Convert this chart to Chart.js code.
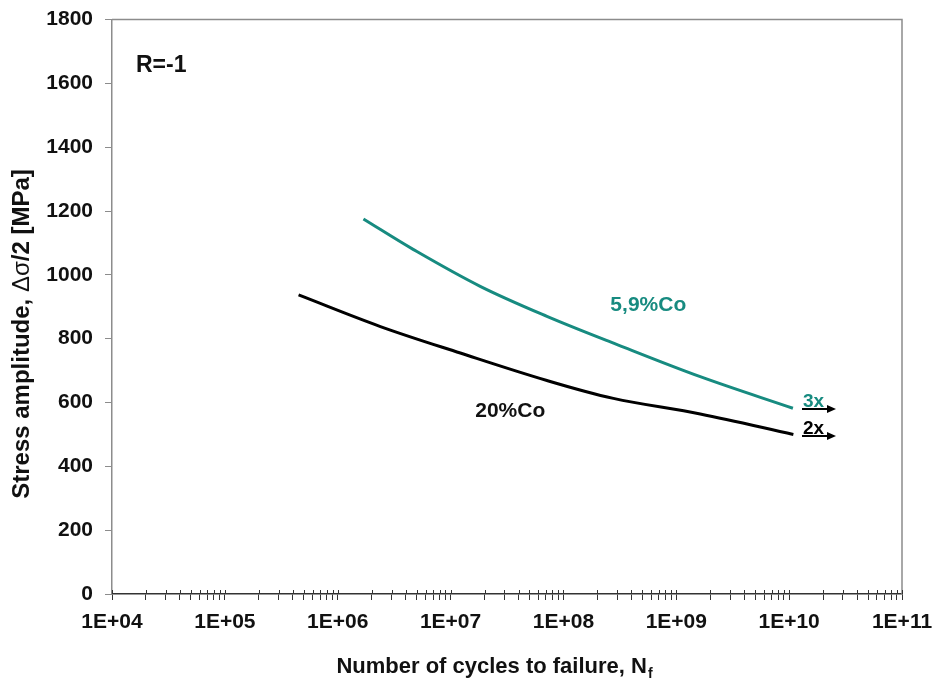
<!DOCTYPE html>
<html>
<head>
<meta charset="utf-8">
<script src="https://cdn.jsdelivr.net/npm/chart.js@4.4.1/dist/chart.umd.min.js"></script>
<style>
  html, body { margin: 0; padding: 0; background: #fff; }
  #wrap { width: 936px; height: 682px; }
</style>
</head>
<body>
<div id="wrap"><canvas id="c" width="936" height="682"></canvas></div>
<script>
// S-N curves, fully reversed loading (R = -1)
const cyclesCo20 = [4.5e5, 2.39e6, 1.22e7, 7.14e7, 2.77e8, 1.63e9, 1.09e10];
const stressCo20 = [937, 838, 755, 669, 613, 564, 500];
const cyclesCo59 = [1.69e6, 4.70e6, 1.83e7, 7.14e7, 2.78e8, 1.63e9, 1.08e10];
const stressCo59 = [1175, 1079, 964, 870, 786, 681, 582];
const seriesNames = ['20%Co', '5,9%Co'];

// run-outs (specimens that did not fail)
const runoutLabels = ['2x', '3x'];
const runoutCycles = [1.3e10, 1.3e10];
const runoutStress = [496, 579];

const xTickLabels = ['1E+04', '1E+05', '1E+06', '1E+07', '1E+08', '1E+09', '1E+10', '1E+11'];
const yTickValues = [0, 200, 400, 600, 800, 1000, 1200, 1400, 1600, 1800];

const TEAL = '#178b80';
const FONT = '"Liberation Sans", Arial, sans-serif';

const toXY = (xs, ys) => xs.map((v, i) => ({ x: v, y: ys[i] }));

const annotations = {
  id: 'annotations',
  afterDraw(chart) {
    const { ctx, chartArea: a, scales: { x, y } } = chart;
    ctx.save();

    // top and right frame
    ctx.strokeStyle = '#8c8c8c';
    ctx.lineWidth = 1.5;
    ctx.beginPath();
    ctx.moveTo(a.left, a.top);
    ctx.lineTo(a.right, a.top);
    ctx.lineTo(a.right, a.bottom);
    ctx.stroke();

    // log ticks also reach slightly into the plot
    ctx.strokeStyle = '#333';
    ctx.lineWidth = 1;
    x.ticks.forEach(t => {
      const px = Math.round(x.getPixelForValue(t.value)) + 0.5;
      ctx.beginPath();
      ctx.moveTo(px, a.bottom - 4);
      ctx.lineTo(px, a.bottom);
      ctx.stroke();
    });

    // text labels inside the plot
    ctx.textAlign = 'center';
    ctx.textBaseline = 'middle';
    ctx.fillStyle = '#111';
    ctx.font = 'bold 23px ' + FONT;
    ctx.fillText('R=-1', x.getPixelForValue(2.73e4), y.getPixelForValue(1655));

    ctx.font = 'bold 21px ' + FONT;
    ctx.fillStyle = '#111';
    ctx.fillText(seriesNames[0], x.getPixelForValue(3.38e7), y.getPixelForValue(574));
    ctx.fillStyle = TEAL;
    ctx.fillText(seriesNames[1], x.getPixelForValue(5.65e8), y.getPixelForValue(906));

    // run-out arrows
    runoutLabels.forEach((lab, i) => {
      const x0 = x.getPixelForValue(runoutCycles[i]);
      const py = Math.round(y.getPixelForValue(runoutStress[i]));
      const x1 = x0 + 34;
      ctx.strokeStyle = '#000';
      ctx.fillStyle = '#000';
      ctx.lineWidth = 2;
      ctx.beginPath();
      ctx.moveTo(x0, py);
      ctx.lineTo(x1 - 6, py);
      ctx.stroke();
      ctx.beginPath();
      ctx.moveTo(x1, py);
      ctx.lineTo(x1 - 9, py - 4);
      ctx.lineTo(x1 - 9, py + 4);
      ctx.closePath();
      ctx.fill();
      ctx.font = 'bold 19px ' + FONT;
      ctx.textAlign = 'left';
      ctx.textBaseline = 'alphabetic';
      ctx.fillStyle = i === 1 ? TEAL : '#000';
      ctx.fillText(lab, x0 + 1, py - 2);
    });

    // x axis title with subscript
    ctx.fillStyle = '#111';
    ctx.textBaseline = 'alphabetic';
    ctx.textAlign = 'left';
    const main = 'Number of cycles to failure, N';
    ctx.font = 'bold 22px ' + FONT;
    const wMain = ctx.measureText(main).width;
    ctx.font = 'bold 14px ' + FONT;
    const wSub = ctx.measureText('f').width;
    const tx = 494 - (wMain + wSub) / 2;
    ctx.font = 'bold 22px ' + FONT;
    ctx.fillText(main, tx, 673);
    ctx.font = 'bold 14px ' + FONT;
    ctx.fillText('f', tx + wMain + 1, 678);

    // y axis title, rotated
    ctx.translate(22, 334);
    ctx.rotate(-Math.PI / 2);
    const parts = [
      ['Stress amplitude, ', 'bold 24px ' + FONT],
      ['\u0394\u03c3', '24px ' + FONT],
      ['/2 [MPa]', 'bold 24px ' + FONT]
    ];
    let total = 0;
    parts.forEach(p => { ctx.font = p[1]; total += ctx.measureText(p[0]).width; });
    let cx = -total / 2;
    ctx.textBaseline = 'middle';
    parts.forEach(p => {
      ctx.font = p[1];
      ctx.fillText(p[0], cx, 0);
      cx += ctx.measureText(p[0]).width;
    });
    ctx.restore();
  }
};

new Chart(document.getElementById('c'), {
  type: 'line',
  data: {
    datasets: [
      {
        label: seriesNames[0],
        data: toXY(cyclesCo20, stressCo20),
        borderColor: '#000',
        borderWidth: 3,
        pointRadius: 0,
        tension: 0.35,
        fill: false
      },
      {
        label: seriesNames[1],
        data: toXY(cyclesCo59, stressCo59),
        borderColor: TEAL,
        borderWidth: 3,
        pointRadius: 0,
        tension: 0.35,
        fill: false
      }
    ]
  },
  options: {
    responsive: false,
    animation: false,
    devicePixelRatio: 1,
    layout: { padding: { top: 19.5, right: 34, left: 0, bottom: 0 } },
    plugins: {
      legend: { display: false },
      tooltip: { enabled: false },
      title: { display: false }
    },
    scales: {
      x: {
        type: 'logarithmic',
        min: 1e4,
        max: 1e11,
        afterBuildTicks(scale) {
          const ticks = [];
          for (let e = 4; e <= 10; e++) {
            for (let m = 1; m <= 9; m++) ticks.push({ value: m * Math.pow(10, e) });
          }
          ticks.push({ value: 1e11 });
          scale.ticks = ticks;
        },
        afterFit(scale) {
          scale.height = 88;
          scale.paddingLeft = 0;
          scale.paddingRight = 0;
        },
        border: { display: true, color: '#333', width: 1.5 },
        grid: { drawOnChartArea: false, drawTicks: true, tickLength: 6, color: '#333' },
        ticks: {
          autoSkip: false,
          maxRotation: 0,
          minRotation: 0,
          padding: 10,
          color: '#111',
          font: { family: FONT, size: 21, weight: 'bold' },
          callback(value) {
            const e = Math.round(Math.log10(value));
            if (Math.abs(value / Math.pow(10, e) - 1) < 1e-9) return xTickLabels[e - 4];
            return '';
          }
        }
      },
      y: {
        type: 'linear',
        min: 0,
        max: 1800,
        afterBuildTicks(scale) { scale.ticks = yTickValues.map(v => ({ value: v })); },
        afterFit(scale) {
          scale.width = 112;
          scale.paddingTop = 0;
          scale.paddingBottom = 0;
        },
        border: { display: true, color: '#8c8c8c', width: 1.5 },
        grid: { drawOnChartArea: false, drawTicks: true, tickLength: 7, color: '#8c8c8c' },
        ticks: {
          padding: 12,
          color: '#111',
          font: { family: FONT, size: 21, weight: 'bold' },
          callback: v => String(v)
        }
      }
    }
  },
  plugins: [annotations]
});
</script>
</body>
</html>
